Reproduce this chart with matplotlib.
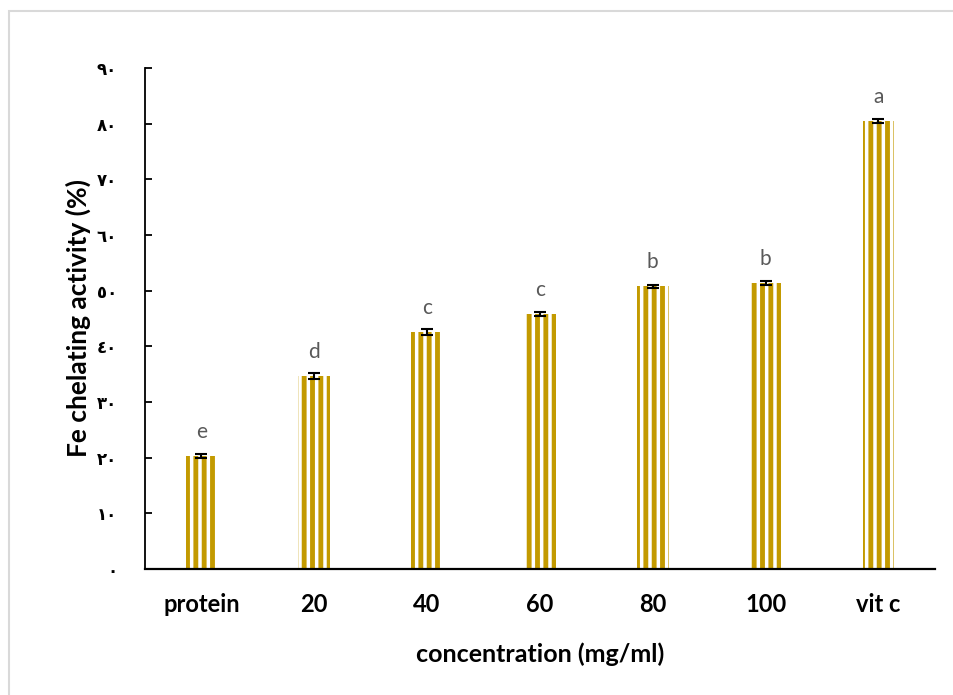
import matplotlib
matplotlib.use("Agg")
import matplotlib.pyplot as plt
from matplotlib.patches import Rectangle

# data
categories = ["protein", "20", "40", "60", "80", "100", "vit c"]
values = [20.3, 34.7, 42.6, 45.8, 50.8, 51.4, 80.5]
errors = [0.4, 0.5, 0.5, 0.3, 0.3, 0.4, 0.4]
letters = ["e", "d", "c", "c", "b", "b", "a"]
yticks = [0, 10, 20, 30, 40, 50, 60, 70, 80, 90]
ytick_labels = ["٠", "١٠", "٢٠", "٣٠", "٤٠", "٥٠", "٦٠", "٧٠", "٨٠", "٩٠"]

gold = "#C39A00"
plt.rcParams["hatch.linewidth"] = 3.5

fig = plt.figure(figsize=(9.54, 6.95), dpi=100)
ax = fig.add_axes([0.152, 0.1813, 0.828, 0.7209])

x = range(len(categories))
ax.bar(x, values, width=0.28, color="white", edgecolor=gold,
       hatch="||", linewidth=0)
ax.errorbar(x, values, yerr=errors, fmt="none", ecolor="black",
            elinewidth=1.5, capsize=4.3, capthick=1.5)

for xi, v, lab in zip(x, values, letters):
    ax.annotate(lab, (xi, v), xytext=(0, 10), textcoords="offset points",
                ha="center", va="bottom", fontsize=15, color="#595959",
                family=["Lato", "DejaVu Sans"])

ax.set_xlim(-0.5, len(categories) - 0.5)
ax.set_ylim(0, 90)
ax.set_yticks(yticks)
ax.set_yticklabels(ytick_labels, fontsize=12, fontweight="bold",
                   family=["DejaVu Sans"])
ax.set_xticks(list(x))
ax.set_xticklabels(categories, fontsize=17, fontweight="bold",
                   family=["Lato", "DejaVu Sans"])
ax.tick_params(axis="y", direction="in", length=5, width=1.3, pad=20)
ax.tick_params(axis="x", length=0, pad=17)

for s in ["top", "right"]:
    ax.spines[s].set_visible(False)
ax.spines["left"].set_linewidth(1.3)
ax.spines["bottom"].set_linewidth(1.6)

ax.set_ylabel("Fe chelating activity (%)", fontsize=19, fontweight="bold",
              family=["Lato", "DejaVu Sans"], labelpad=4)
ax.set_xlabel("concentration (mg/ml)", fontsize=18, fontweight="bold",
              family=["Lato", "DejaVu Sans"], labelpad=19)

# light chart border (top and left edges visible)
fig.patches.append(Rectangle((9 / 954, -0.01), 1.0, 1 - 11 / 695 + 0.01,
                             transform=fig.transFigure, fill=False,
                             edgecolor="#D9D9D9", linewidth=1.5))

fig.savefig("out.png", dpi=100)
